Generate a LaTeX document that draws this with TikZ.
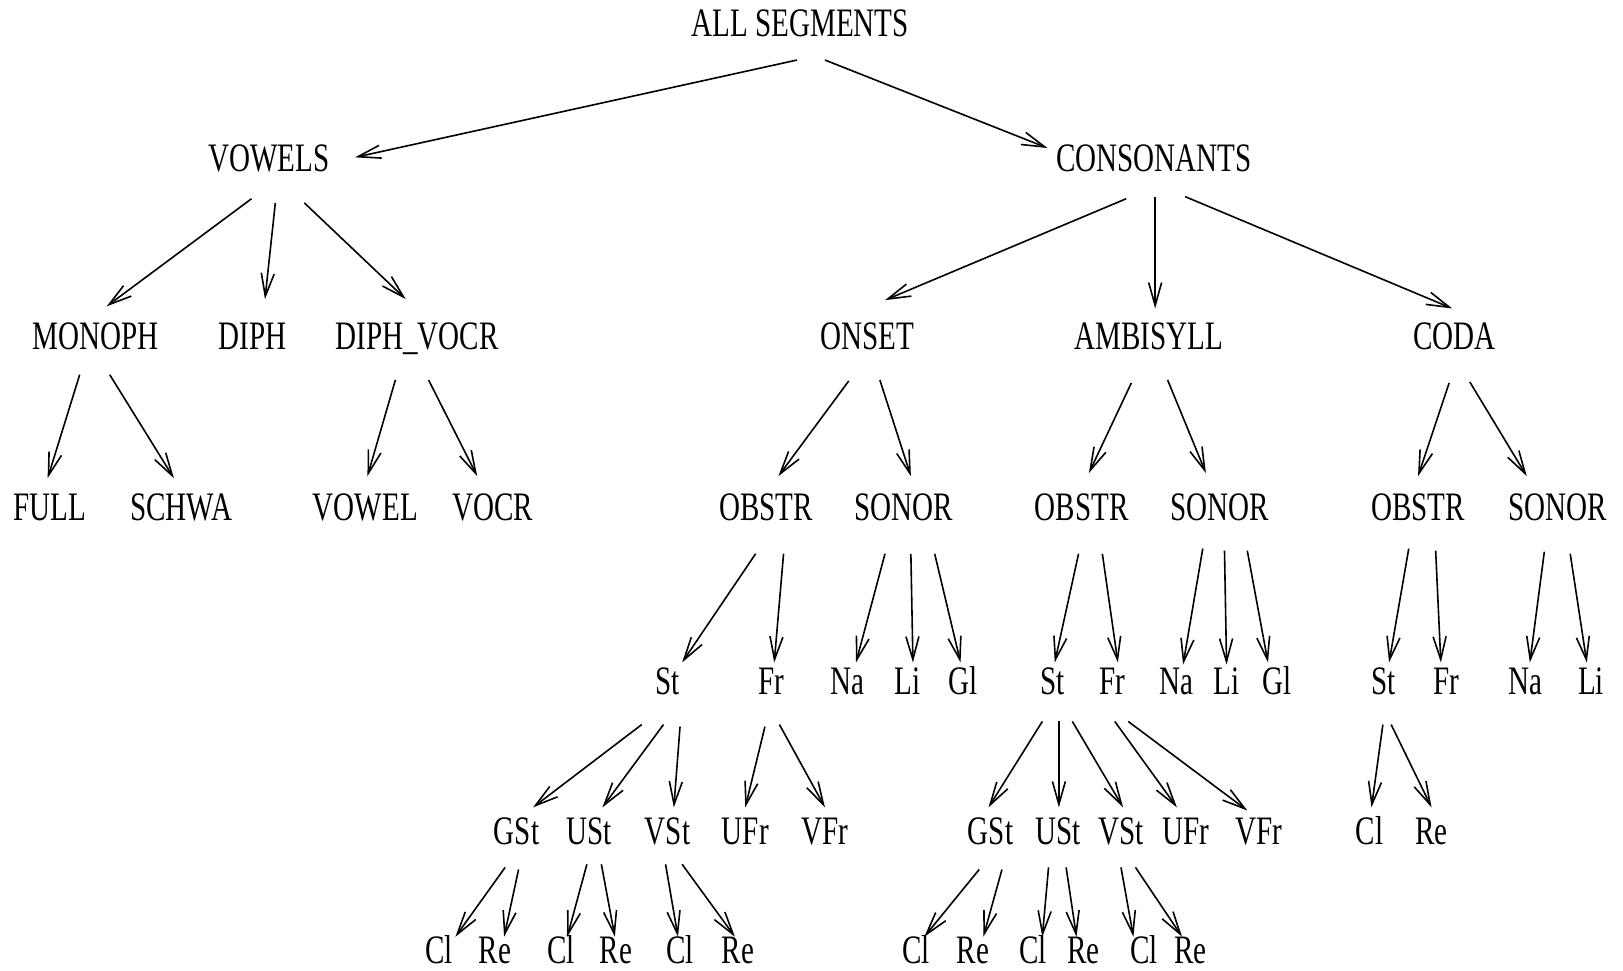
\documentclass[tikz,border=0pt]{standalone}
\usepackage{fontspec}
\setmainfont{Liberation Serif}[FakeStretch=0.72]
\usetikzlibrary{arrows.meta}
\newcommand\edg[6]{\draw[arr] ([shift={(#2,#3)}]#1.center) -- ([shift={(#5,#6)}]#4.center);}
\begin{document}
\begin{tikzpicture}[x=1.0351pt,y=-1.0351pt,
  lbl/.style={inner sep=0pt,text height=26.7pt,text depth=0pt,font=\fontsize{40.4}{44}\selectfont},
  arr/.style={line width=1.6pt,-{Straight Barb[length=23pt,width=13pt,line width=1.6pt]}}]
\useasboundingbox[fill=white] (0,0) rectangle (1568,938);
% level 0-1
\node[lbl] (a0) at (773,22) {ALL SEGMENTS};
\node[lbl] (v) at (260,153) {VOWELS};
\node[lbl] (c) at (1115,153) {CONSONANTS};
% level 2
\node[lbl] (mono) at (92,325) {MONOPH};
\node[lbl] (diph) at (244,325) {DIPH};
\node[lbl] (dvocr) at (403,325) {DIPH\_VOCR};
\node[lbl] (onset) at (838,325) {ONSET};
\node[lbl] (ambi) at (1110,325) {AMBISYLL};
\node[lbl] (coda) at (1405,325) {CODA};
% level 3
\node[lbl] (full) at (48,490) {FULL};
\node[lbl] (schwa) at (175,490) {SCHWA};
\node[lbl] (vowel) at (353,490) {VOWEL};
\node[lbl] (vocr) at (476,490) {VOCR};
\node[lbl] (oob) at (740,490) {OBSTR};
\node[lbl] (oso) at (873,490) {SONOR};
\node[lbl] (aob) at (1045,490) {OBSTR};
\node[lbl] (aso) at (1178,490) {SONOR};
\node[lbl] (cob) at (1370,490) {OBSTR};
\node[lbl] (cso) at (1505,490) {SONOR};
% level 4
\node[lbl] (ost) at (645,658) {St};
\node[lbl] (ofr) at (745,658) {Fr};
\node[lbl] (ona) at (819,658) {Na};
\node[lbl] (oli) at (877,658) {Li};
\node[lbl] (ogl) at (930,658) {Gl};
\node[lbl] (ast) at (1017,658) {St};
\node[lbl] (afr) at (1075,658) {Fr};
\node[lbl] (ana) at (1137,658) {Na};
\node[lbl] (ali) at (1185,658) {Li};
\node[lbl] (agl) at (1234,658) {Gl};
\node[lbl] (cst) at (1337,658) {St};
\node[lbl] (cfr) at (1397,658) {Fr};
\node[lbl] (cna) at (1474,658) {Na};
\node[lbl] (cli) at (1537,658) {Li};
% level 5
\node[lbl] (ogst) at (499,803) {GSt};
\node[lbl] (oust) at (569,803) {USt};
\node[lbl] (ovst) at (645,803) {VSt};
\node[lbl] (oufr) at (720,803) {UFr};
\node[lbl] (ovfr) at (797,803) {VFr};
\node[lbl] (agst) at (957,803) {GSt};
\node[lbl] (aust) at (1022,803) {USt};
\node[lbl] (avst) at (1083,803) {VSt};
\node[lbl] (aufr) at (1146,803) {UFr};
\node[lbl] (avfr) at (1216,803) {VFr};
\node[lbl] (ccl) at (1323,803) {Cl};
\node[lbl] (cre) at (1383,803) {Re};
% level 6
\node[lbl] (ogcl) at (424,918) {Cl};
\node[lbl] (ogre) at (478,918) {Re};
\node[lbl] (oucl) at (542,918) {Cl};
\node[lbl] (oure) at (595,918) {Re};
\node[lbl] (ovcl) at (657,918) {Cl};
\node[lbl] (ovre) at (713,918) {Re};
\node[lbl] (agcl) at (885,918) {Cl};
\node[lbl] (agre) at (940,918) {Re};
\node[lbl] (aucl) at (998,918) {Cl};
\node[lbl] (aure) at (1047,918) {Re};
\node[lbl] (avcl) at (1105,918) {Cl};
\node[lbl] (avre) at (1150,918) {Re};
% edges
\edg{a0}{-3}{36}{v}{83}{-1}
\edg{a0}{24}{36}{c}{-103}{-10}
\edg{v}{-17}{39}{mono}{11}{-29}
\edg{v}{6}{43}{diph}{12}{-36}
\edg{v}{34}{43}{dvocr}{-11}{-36}
\edg{c}{-27}{39}{onset}{17}{-35}
\edg{c}{1}{37}{ambi}{6}{-27}
\edg{c}{30}{37}{coda}{-2}{-27}
\edg{mono}{-15}{37}{full}{-2}{-28}
\edg{mono}{14}{37}{schwa}{-7}{-28}
\edg{dvocr}{-21}{42}{vowel}{2}{-30}
\edg{dvocr}{11}{42}{vocr}{-15}{-30}
\edg{onset}{-18}{43}{oob}{12}{-30}
\edg{onset}{12}{42}{oso}{7}{-30}
\edg{ambi}{-17}{45}{aob}{7}{-33}
\edg{ambi}{18}{42}{aso}{-13}{-33}
\edg{coda}{-5}{45}{cob}{0}{-30}
\edg{coda}{15}{44}{cso}{-30}{-30}
\edg{oob}{-10}{45}{ost}{14}{-18}
\edg{oob}{17}{45}{ofr}{3}{-18}
\edg{oso}{-18}{45}{ona}{8}{-18}
\edg{oso}{7}{45}{oli}{5}{-18}
\edg{oso}{30}{45}{ogl}{-2}{-18}
\edg{aob}{-3}{45}{ast}{2}{-18}
\edg{aob}{20}{45}{afr}{5}{-18}
\edg{aso}{-16}{40}{ana}{6}{-16}
\edg{aso}{5}{42}{ali}{0}{-16}
\edg{aso}{27}{42}{agl}{-9}{-18}
\edg{cob}{-9}{40}{cst}{5}{-18}
\edg{cob}{17}{42}{cfr}{-5}{-18}
\edg{cso}{-13}{43}{cna}{4}{-18}
\edg{cso}{12}{45}{cli}{-4}{-18}
\edg{ost}{-25}{42}{ogst}{16}{-23}
\edg{ost}{-4}{42}{oust}{13}{-23}
\edg{ost}{12}{44}{ovst}{6}{-23}
\edg{ofr}{-6}{44}{oufr}{0}{-23}
\edg{ofr}{8}{42}{ovfr}{0}{-23}
\edg{ast}{-10}{39}{agst}{-2}{-23}
\edg{ast}{6}{39}{aust}{1}{-23}
\edg{ast}{19}{39}{avst}{2}{-23}
\edg{afr}{2}{39}{aufr}{-9}{-23}
\edg{afr}{15}{39}{avfr}{-11}{-20}
\edg{cst}{-1}{42}{ccl}{2}{-23}
\edg{cst}{7}{42}{cre}{0}{-23}
\edg{ogst}{-11}{35}{ogcl}{16}{-13}
\edg{ogst}{2}{37}{ogre}{9}{-13}
\edg{oust}{-2}{32}{oucl}{6}{-13}
\edg{oust}{12}{32}{oure}{-1}{-13}
\edg{ovst}{-2}{32}{ovcl}{-2}{-13}
\edg{ovst}{14}{32}{ovre}{-3}{-13}
\edg{agst}{-11}{37}{agcl}{8}{-13}
\edg{agst}{11}{37}{agre}{10}{-13}
\edg{aust}{-9}{35}{aucl}{9}{-13}
\edg{aust}{8}{35}{aure}{-7}{-13}
\edg{avst}{0}{35}{avcl}{-10}{-13}
\edg{avst}{14}{35}{avre}{-8}{-13}
\end{tikzpicture}
\end{document}
